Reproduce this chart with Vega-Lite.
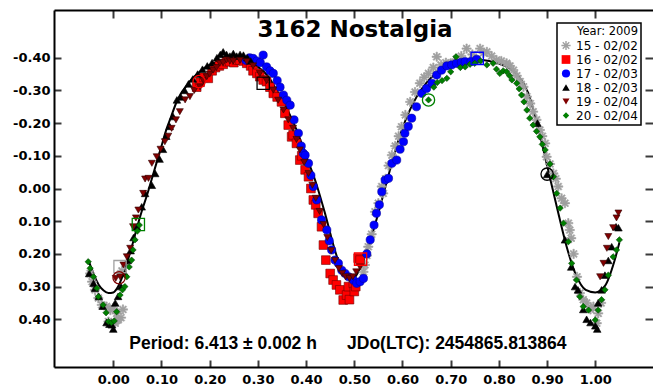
{
  "$schema": "https://vega.github.io/schema/vega-lite/v6.json",
  "width": 599,
  "height": 357,
  "autosize": {"type": "none"},
  "padding": {"left": 54, "top": 10, "right": 0, "bottom": 19},
  "background": "white",
  "config": {
    "view": {"stroke": null},
    "axis": {
      "grid": false,
      "title": null,
      "domainColor": "#000000",
      "domainWidth": 2,
      "labelFont": "DejaVu Sans",
      "labelFontWeight": "bold",
      "labelFontSize": 13,
      "labelColor": "#000000"
    },
    "legend": {
      "fillColor": "#ffffff",
      "strokeColor": "#000000",
      "strokeWidth": 1.5,
      "padding": 3,
      "cornerRadius": 0,
      "titleFont": "DejaVu Sans",
      "titleFontWeight": "normal",
      "titleFontSize": 11.5,
      "titleColor": "#000000",
      "titleAnchor": "end",
      "titlePadding": 2,
      "labelFont": "DejaVu Sans",
      "labelFontSize": 12,
      "labelColor": "#000000",
      "labelOffset": 4,
      "symbolSize": 64,
      "symbolStrokeWidth": 0,
      "symbolOpacity": 1,
      "rowPadding": 2
    }
  },
  "datasets": {
    "obs": [
      {"session": "15 - 02/02", "phase": -0.048, "mag": 0.26},
      {"session": "15 - 02/02", "phase": -0.044, "mag": 0.285},
      {"session": "15 - 02/02", "phase": -0.038, "mag": 0.31},
      {"session": "15 - 02/02", "phase": -0.031, "mag": 0.335},
      {"session": "15 - 02/02", "phase": -0.024, "mag": 0.356},
      {"session": "15 - 02/02", "phase": -0.014, "mag": 0.361},
      {"session": "15 - 02/02", "phase": -0.006, "mag": 0.372},
      {"session": "15 - 02/02", "phase": 0.0, "mag": 0.366},
      {"session": "15 - 02/02", "phase": 0.007, "mag": 0.382},
      {"session": "15 - 02/02", "phase": 0.01, "mag": 0.402},
      {"session": "15 - 02/02", "phase": 0.004, "mag": 0.412},
      {"session": "15 - 02/02", "phase": -0.01, "mag": 0.407},
      {"session": "15 - 02/02", "phase": 0.016, "mag": 0.395},
      {"session": "15 - 02/02", "phase": 0.02, "mag": 0.37},
      {"session": "15 - 02/02", "phase": 0.018, "mag": 0.252},
      {"session": "15 - 02/02", "phase": 0.519, "mag": 0.255},
      {"session": "15 - 02/02", "phase": 0.522, "mag": 0.234},
      {"session": "15 - 02/02", "phase": 0.526, "mag": 0.205},
      {"session": "15 - 02/02", "phase": 0.529, "mag": 0.178},
      {"session": "15 - 02/02", "phase": 0.536, "mag": 0.14},
      {"session": "15 - 02/02", "phase": 0.543, "mag": 0.071},
      {"session": "15 - 02/02", "phase": 0.55, "mag": 0.045},
      {"session": "15 - 02/02", "phase": 0.557, "mag": -0.006},
      {"session": "15 - 02/02", "phase": 0.56, "mag": 0.015},
      {"session": "15 - 02/02", "phase": 0.565, "mag": -0.03},
      {"session": "15 - 02/02", "phase": 0.571, "mag": -0.07},
      {"session": "15 - 02/02", "phase": 0.578, "mag": -0.102},
      {"session": "15 - 02/02", "phase": 0.585, "mag": -0.13},
      {"session": "15 - 02/02", "phase": 0.592, "mag": -0.16},
      {"session": "15 - 02/02", "phase": 0.598, "mag": -0.189},
      {"session": "15 - 02/02", "phase": 0.606, "mag": -0.225},
      {"session": "15 - 02/02", "phase": 0.616, "mag": -0.265},
      {"session": "15 - 02/02", "phase": 0.626, "mag": -0.295},
      {"session": "15 - 02/02", "phase": 0.636, "mag": -0.322},
      {"session": "15 - 02/02", "phase": 0.645, "mag": -0.34},
      {"session": "15 - 02/02", "phase": 0.654, "mag": -0.352},
      {"session": "15 - 02/02", "phase": 0.664, "mag": -0.37},
      {"session": "15 - 02/02", "phase": 0.671, "mag": -0.403},
      {"session": "15 - 02/02", "phase": 0.68, "mag": -0.378},
      {"session": "15 - 02/02", "phase": 0.69, "mag": -0.385},
      {"session": "15 - 02/02", "phase": 0.7, "mag": -0.383},
      {"session": "15 - 02/02", "phase": 0.712, "mag": -0.395},
      {"session": "15 - 02/02", "phase": 0.722, "mag": -0.405},
      {"session": "15 - 02/02", "phase": 0.733, "mag": -0.428},
      {"session": "15 - 02/02", "phase": 0.745, "mag": -0.41},
      {"session": "15 - 02/02", "phase": 0.761, "mag": -0.428},
      {"session": "15 - 02/02", "phase": 0.768, "mag": -0.415},
      {"session": "15 - 02/02", "phase": 0.775, "mag": -0.418},
      {"session": "15 - 02/02", "phase": 0.785, "mag": -0.405},
      {"session": "15 - 02/02", "phase": 0.795, "mag": -0.393},
      {"session": "15 - 02/02", "phase": 0.805, "mag": -0.39},
      {"session": "15 - 02/02", "phase": 0.816, "mag": -0.383},
      {"session": "15 - 02/02", "phase": 0.823, "mag": -0.375},
      {"session": "15 - 02/02", "phase": 0.83, "mag": -0.362},
      {"session": "15 - 02/02", "phase": 0.837, "mag": -0.345},
      {"session": "15 - 02/02", "phase": 0.844, "mag": -0.327},
      {"session": "15 - 02/02", "phase": 0.851, "mag": -0.311},
      {"session": "15 - 02/02", "phase": 0.858, "mag": -0.281},
      {"session": "15 - 02/02", "phase": 0.865, "mag": -0.26},
      {"session": "15 - 02/02", "phase": 0.871, "mag": -0.235},
      {"session": "15 - 02/02", "phase": 0.878, "mag": -0.21},
      {"session": "15 - 02/02", "phase": 0.885, "mag": -0.179},
      {"session": "15 - 02/02", "phase": 0.89, "mag": -0.16},
      {"session": "15 - 02/02", "phase": 0.896, "mag": -0.138},
      {"session": "15 - 02/02", "phase": 0.899, "mag": -0.097},
      {"session": "15 - 02/02", "phase": 0.906, "mag": -0.075},
      {"session": "15 - 02/02", "phase": 0.913, "mag": -0.046},
      {"session": "15 - 02/02", "phase": 0.918, "mag": -0.03},
      {"session": "15 - 02/02", "phase": 0.923, "mag": -0.006},
      {"session": "15 - 02/02", "phase": 0.93, "mag": 0.03},
      {"session": "15 - 02/02", "phase": 0.937, "mag": 0.045},
      {"session": "15 - 02/02", "phase": 0.944, "mag": 0.106},
      {"session": "15 - 02/02", "phase": 0.947, "mag": 0.127},
      {"session": "15 - 02/02", "phase": 0.95, "mag": 0.152},
      {"session": "15 - 02/02", "phase": 0.955, "mag": 0.2},
      {"session": "15 - 02/02", "phase": 0.962, "mag": 0.27},
      {"session": "15 - 02/02", "phase": 0.968, "mag": 0.32},
      {"session": "15 - 02/02", "phase": 0.975, "mag": 0.34},
      {"session": "15 - 02/02", "phase": 0.982, "mag": 0.35},
      {"session": "15 - 02/02", "phase": 0.99, "mag": 0.37},
      {"session": "15 - 02/02", "phase": 0.996, "mag": 0.361},
      {"session": "15 - 02/02", "phase": 1.003, "mag": 0.412},
      {"session": "15 - 02/02", "phase": 1.006, "mag": 0.382},
      {"session": "15 - 02/02", "phase": 1.012, "mag": 0.35},

      {"session": "16 - 02/02", "phase": 0.173, "mag": -0.31},
      {"session": "16 - 02/02", "phase": 0.18, "mag": -0.325},
      {"session": "16 - 02/02", "phase": 0.188, "mag": -0.34},
      {"session": "16 - 02/02", "phase": 0.197, "mag": -0.337},
      {"session": "16 - 02/02", "phase": 0.205, "mag": -0.36},
      {"session": "16 - 02/02", "phase": 0.212, "mag": -0.37},
      {"session": "16 - 02/02", "phase": 0.22, "mag": -0.375},
      {"session": "16 - 02/02", "phase": 0.228, "mag": -0.38},
      {"session": "16 - 02/02", "phase": 0.235, "mag": -0.388},
      {"session": "16 - 02/02", "phase": 0.242, "mag": -0.388},
      {"session": "16 - 02/02", "phase": 0.25, "mag": -0.385},
      {"session": "16 - 02/02", "phase": 0.256, "mag": -0.393},
      {"session": "16 - 02/02", "phase": 0.263, "mag": -0.393},
      {"session": "16 - 02/02", "phase": 0.27, "mag": -0.39},
      {"session": "16 - 02/02", "phase": 0.277, "mag": -0.383},
      {"session": "16 - 02/02", "phase": 0.285, "mag": -0.375},
      {"session": "16 - 02/02", "phase": 0.29, "mag": -0.36},
      {"session": "16 - 02/02", "phase": 0.298, "mag": -0.352},
      {"session": "16 - 02/02", "phase": 0.304, "mag": -0.342},
      {"session": "16 - 02/02", "phase": 0.311, "mag": -0.332},
      {"session": "16 - 02/02", "phase": 0.318, "mag": -0.327},
      {"session": "16 - 02/02", "phase": 0.325, "mag": -0.31},
      {"session": "16 - 02/02", "phase": 0.332, "mag": -0.291},
      {"session": "16 - 02/02", "phase": 0.34, "mag": -0.28},
      {"session": "16 - 02/02", "phase": 0.349, "mag": -0.265},
      {"session": "16 - 02/02", "phase": 0.356, "mag": -0.23},
      {"session": "16 - 02/02", "phase": 0.363, "mag": -0.194},
      {"session": "16 - 02/02", "phase": 0.37, "mag": -0.158},
      {"session": "16 - 02/02", "phase": 0.373, "mag": -0.164},
      {"session": "16 - 02/02", "phase": 0.38, "mag": -0.138},
      {"session": "16 - 02/02", "phase": 0.387, "mag": -0.087},
      {"session": "16 - 02/02", "phase": 0.391, "mag": -0.1},
      {"session": "16 - 02/02", "phase": 0.398, "mag": -0.057},
      {"session": "16 - 02/02", "phase": 0.405, "mag": -0.036},
      {"session": "16 - 02/02", "phase": 0.41, "mag": 0.0},
      {"session": "16 - 02/02", "phase": 0.415, "mag": 0.035},
      {"session": "16 - 02/02", "phase": 0.42, "mag": 0.05},
      {"session": "16 - 02/02", "phase": 0.425, "mag": 0.076},
      {"session": "16 - 02/02", "phase": 0.432, "mag": 0.117},
      {"session": "16 - 02/02", "phase": 0.436, "mag": 0.173},
      {"session": "16 - 02/02", "phase": 0.441, "mag": 0.219},
      {"session": "16 - 02/02", "phase": 0.45, "mag": 0.26},
      {"session": "16 - 02/02", "phase": 0.456, "mag": 0.28},
      {"session": "16 - 02/02", "phase": 0.463, "mag": 0.295},
      {"session": "16 - 02/02", "phase": 0.47, "mag": 0.31},
      {"session": "16 - 02/02", "phase": 0.477, "mag": 0.341},
      {"session": "16 - 02/02", "phase": 0.484, "mag": 0.326},
      {"session": "16 - 02/02", "phase": 0.488, "mag": 0.3},
      {"session": "16 - 02/02", "phase": 0.49, "mag": 0.34},
      {"session": "16 - 02/02", "phase": 0.498, "mag": 0.29},
      {"session": "16 - 02/02", "phase": 0.5, "mag": 0.315},
      {"session": "16 - 02/02", "phase": 0.503, "mag": 0.3},
      {"session": "16 - 02/02", "phase": 0.508, "mag": 0.213},
      {"session": "16 - 02/02", "phase": 0.512, "mag": 0.219},

      {"session": "17 - 02/03", "phase": 0.275, "mag": -0.392},
      {"session": "17 - 02/03", "phase": 0.283, "mag": -0.4},
      {"session": "17 - 02/03", "phase": 0.29, "mag": -0.398},
      {"session": "17 - 02/03", "phase": 0.298, "mag": -0.39},
      {"session": "17 - 02/03", "phase": 0.305, "mag": -0.385},
      {"session": "17 - 02/03", "phase": 0.311, "mag": -0.408},
      {"session": "17 - 02/03", "phase": 0.318, "mag": -0.372},
      {"session": "17 - 02/03", "phase": 0.325, "mag": -0.36},
      {"session": "17 - 02/03", "phase": 0.332, "mag": -0.352},
      {"session": "17 - 02/03", "phase": 0.34, "mag": -0.33},
      {"session": "17 - 02/03", "phase": 0.346, "mag": -0.31},
      {"session": "17 - 02/03", "phase": 0.353, "mag": -0.286},
      {"session": "17 - 02/03", "phase": 0.36, "mag": -0.27},
      {"session": "17 - 02/03", "phase": 0.367, "mag": -0.255},
      {"session": "17 - 02/03", "phase": 0.375, "mag": -0.21},
      {"session": "17 - 02/03", "phase": 0.384, "mag": -0.169},
      {"session": "17 - 02/03", "phase": 0.39, "mag": -0.13},
      {"session": "17 - 02/03", "phase": 0.394, "mag": -0.108},
      {"session": "17 - 02/03", "phase": 0.398, "mag": -0.102},
      {"session": "17 - 02/03", "phase": 0.405, "mag": -0.077},
      {"session": "17 - 02/03", "phase": 0.41, "mag": -0.04},
      {"session": "17 - 02/03", "phase": 0.415, "mag": -0.006},
      {"session": "17 - 02/03", "phase": 0.422, "mag": 0.035},
      {"session": "17 - 02/03", "phase": 0.432, "mag": 0.096},
      {"session": "17 - 02/03", "phase": 0.443, "mag": 0.127},
      {"session": "17 - 02/03", "phase": 0.448, "mag": 0.16},
      {"session": "17 - 02/03", "phase": 0.453, "mag": 0.188},
      {"session": "17 - 02/03", "phase": 0.46, "mag": 0.219},
      {"session": "17 - 02/03", "phase": 0.467, "mag": 0.229},
      {"session": "17 - 02/03", "phase": 0.474, "mag": 0.25},
      {"session": "17 - 02/03", "phase": 0.481, "mag": 0.26},
      {"session": "17 - 02/03", "phase": 0.488, "mag": 0.27},
      {"session": "17 - 02/03", "phase": 0.498, "mag": 0.28},
      {"session": "17 - 02/03", "phase": 0.505, "mag": 0.29},
      {"session": "17 - 02/03", "phase": 0.512, "mag": 0.285},
      {"session": "17 - 02/03", "phase": 0.519, "mag": 0.275},
      {"session": "17 - 02/03", "phase": 0.526, "mag": 0.2},
      {"session": "17 - 02/03", "phase": 0.533, "mag": 0.157},
      {"session": "17 - 02/03", "phase": 0.541, "mag": 0.112},
      {"session": "17 - 02/03", "phase": 0.546, "mag": 0.076},
      {"session": "17 - 02/03", "phase": 0.552, "mag": 0.05},
      {"session": "17 - 02/03", "phase": 0.557, "mag": 0.01},
      {"session": "17 - 02/03", "phase": 0.564, "mag": -0.026},
      {"session": "17 - 02/03", "phase": 0.571, "mag": -0.031},
      {"session": "17 - 02/03", "phase": 0.578, "mag": -0.077},
      {"session": "17 - 02/03", "phase": 0.588, "mag": -0.087},
      {"session": "17 - 02/03", "phase": 0.595, "mag": -0.12},
      {"session": "17 - 02/03", "phase": 0.602, "mag": -0.143},
      {"session": "17 - 02/03", "phase": 0.605, "mag": -0.169},
      {"session": "17 - 02/03", "phase": 0.612, "mag": -0.19},
      {"session": "17 - 02/03", "phase": 0.619, "mag": -0.215},
      {"session": "17 - 02/03", "phase": 0.629, "mag": -0.25},
      {"session": "17 - 02/03", "phase": 0.64, "mag": -0.291},
      {"session": "17 - 02/03", "phase": 0.65, "mag": -0.306},
      {"session": "17 - 02/03", "phase": 0.661, "mag": -0.322},
      {"session": "17 - 02/03", "phase": 0.671, "mag": -0.347},
      {"session": "17 - 02/03", "phase": 0.681, "mag": -0.362},
      {"session": "17 - 02/03", "phase": 0.692, "mag": -0.375},
      {"session": "17 - 02/03", "phase": 0.702, "mag": -0.378},
      {"session": "17 - 02/03", "phase": 0.712, "mag": -0.383},
      {"session": "17 - 02/03", "phase": 0.722, "mag": -0.386},
      {"session": "17 - 02/03", "phase": 0.73, "mag": -0.388},
      {"session": "17 - 02/03", "phase": 0.742, "mag": -0.388},
      {"session": "17 - 02/03", "phase": 0.754, "mag": -0.395},

      {"session": "18 - 02/03", "phase": -0.05, "mag": 0.26},
      {"session": "18 - 02/03", "phase": -0.041, "mag": 0.29},
      {"session": "18 - 02/03", "phase": -0.038, "mag": 0.305},
      {"session": "18 - 02/03", "phase": -0.03, "mag": 0.33},
      {"session": "18 - 02/03", "phase": -0.022, "mag": 0.36},
      {"session": "18 - 02/03", "phase": -0.014, "mag": 0.41},
      {"session": "18 - 02/03", "phase": -0.008, "mag": 0.415},
      {"session": "18 - 02/03", "phase": -0.003, "mag": 0.417},
      {"session": "18 - 02/03", "phase": 0.0, "mag": 0.43},
      {"session": "18 - 02/03", "phase": 0.004, "mag": 0.35},
      {"session": "18 - 02/03", "phase": 0.01, "mag": 0.33},
      {"session": "18 - 02/03", "phase": 0.016, "mag": 0.3},
      {"session": "18 - 02/03", "phase": 0.024, "mag": 0.26},
      {"session": "18 - 02/03", "phase": 0.03, "mag": 0.22},
      {"session": "18 - 02/03", "phase": 0.036, "mag": 0.19},
      {"session": "18 - 02/03", "phase": 0.042, "mag": 0.15},
      {"session": "18 - 02/03", "phase": 0.049, "mag": 0.117},
      {"session": "18 - 02/03", "phase": 0.059, "mag": 0.056},
      {"session": "18 - 02/03", "phase": 0.066, "mag": 0.015},
      {"session": "18 - 02/03", "phase": 0.08, "mag": -0.01},
      {"session": "18 - 02/03", "phase": 0.087, "mag": -0.046},
      {"session": "18 - 02/03", "phase": 0.096, "mag": -0.09},
      {"session": "18 - 02/03", "phase": 0.103, "mag": -0.12},
      {"session": "18 - 02/03", "phase": 0.11, "mag": -0.16},
      {"session": "18 - 02/03", "phase": 0.117, "mag": -0.19},
      {"session": "18 - 02/03", "phase": 0.124, "mag": -0.22},
      {"session": "18 - 02/03", "phase": 0.132, "mag": -0.271},
      {"session": "18 - 02/03", "phase": 0.14, "mag": -0.28},
      {"session": "18 - 02/03", "phase": 0.148, "mag": -0.3},
      {"session": "18 - 02/03", "phase": 0.156, "mag": -0.32},
      {"session": "18 - 02/03", "phase": 0.165, "mag": -0.335},
      {"session": "18 - 02/03", "phase": 0.175, "mag": -0.35},
      {"session": "18 - 02/03", "phase": 0.185, "mag": -0.365},
      {"session": "18 - 02/03", "phase": 0.195, "mag": -0.375},
      {"session": "18 - 02/03", "phase": 0.205, "mag": -0.385},
      {"session": "18 - 02/03", "phase": 0.215, "mag": -0.4},
      {"session": "18 - 02/03", "phase": 0.222, "mag": -0.41},
      {"session": "18 - 02/03", "phase": 0.228, "mag": -0.418},
      {"session": "18 - 02/03", "phase": 0.235, "mag": -0.41},
      {"session": "18 - 02/03", "phase": 0.242, "mag": -0.405},
      {"session": "18 - 02/03", "phase": 0.249, "mag": -0.413},
      {"session": "18 - 02/03", "phase": 0.256, "mag": -0.405},
      {"session": "18 - 02/03", "phase": 0.263, "mag": -0.41},
      {"session": "18 - 02/03", "phase": 0.27, "mag": -0.408},
      {"session": "18 - 02/03", "phase": 0.278, "mag": -0.4},
      {"session": "18 - 02/03", "phase": 0.285, "mag": -0.39},
      {"session": "18 - 02/03", "phase": 0.88, "mag": -0.2},
      {"session": "18 - 02/03", "phase": 0.9, "mag": -0.043},
      {"session": "18 - 02/03", "phase": 0.937, "mag": 0.157},
      {"session": "18 - 02/03", "phase": 0.95, "mag": 0.24},
      {"session": "18 - 02/03", "phase": 0.958, "mag": 0.3},
      {"session": "18 - 02/03", "phase": 0.964, "mag": 0.31},
      {"session": "18 - 02/03", "phase": 0.975, "mag": 0.37},
      {"session": "18 - 02/03", "phase": 0.982, "mag": 0.4},
      {"session": "18 - 02/03", "phase": 0.99, "mag": 0.41},
      {"session": "18 - 02/03", "phase": 1.0, "mag": 0.42},
      {"session": "18 - 02/03", "phase": 1.004, "mag": 0.43},
      {"session": "18 - 02/03", "phase": 1.006, "mag": 0.35},
      {"session": "18 - 02/03", "phase": 1.013, "mag": 0.31},
      {"session": "18 - 02/03", "phase": 1.02, "mag": 0.265},
      {"session": "18 - 02/03", "phase": 1.027, "mag": 0.22},
      {"session": "18 - 02/03", "phase": 1.034, "mag": 0.178},
      {"session": "18 - 02/03", "phase": 1.043, "mag": 0.117},
      {"session": "18 - 02/03", "phase": 1.048, "mag": 0.12},

      {"session": "19 - 02/04", "phase": 0.005, "mag": 0.275},
      {"session": "19 - 02/04", "phase": 0.014, "mag": 0.27},
      {"session": "19 - 02/04", "phase": 0.021, "mag": 0.234},
      {"session": "19 - 02/04", "phase": 0.028, "mag": 0.209},
      {"session": "19 - 02/04", "phase": 0.035, "mag": 0.183},
      {"session": "19 - 02/04", "phase": 0.041, "mag": 0.117},
      {"session": "19 - 02/04", "phase": 0.047, "mag": 0.09},
      {"session": "19 - 02/04", "phase": 0.052, "mag": 0.066},
      {"session": "19 - 02/04", "phase": 0.062, "mag": 0.015},
      {"session": "19 - 02/04", "phase": 0.066, "mag": -0.029},
      {"session": "19 - 02/04", "phase": 0.073, "mag": -0.031},
      {"session": "19 - 02/04", "phase": 0.08, "mag": -0.077},
      {"session": "19 - 02/04", "phase": 0.09, "mag": -0.097},
      {"session": "19 - 02/04", "phase": 0.098, "mag": -0.12},
      {"session": "19 - 02/04", "phase": 0.107, "mag": -0.143},
      {"session": "19 - 02/04", "phase": 0.114, "mag": -0.16},
      {"session": "19 - 02/04", "phase": 0.121, "mag": -0.184},
      {"session": "19 - 02/04", "phase": 0.13, "mag": -0.21},
      {"session": "19 - 02/04", "phase": 0.138, "mag": -0.235},
      {"session": "19 - 02/04", "phase": 0.149, "mag": -0.271},
      {"session": "19 - 02/04", "phase": 0.159, "mag": -0.281},
      {"session": "19 - 02/04", "phase": 0.168, "mag": -0.3},
      {"session": "19 - 02/04", "phase": 0.18, "mag": -0.311},
      {"session": "19 - 02/04", "phase": 0.187, "mag": -0.33},
      {"session": "19 - 02/04", "phase": 0.194, "mag": -0.342},
      {"session": "19 - 02/04", "phase": 0.2, "mag": -0.35},
      {"session": "19 - 02/04", "phase": 0.207, "mag": -0.362},
      {"session": "19 - 02/04", "phase": 0.214, "mag": -0.37},
      {"session": "19 - 02/04", "phase": 0.221, "mag": -0.383},
      {"session": "19 - 02/04", "phase": 0.228, "mag": -0.385},
      {"session": "19 - 02/04", "phase": 0.235, "mag": -0.393},
      {"session": "19 - 02/04", "phase": 0.242, "mag": -0.39},
      {"session": "19 - 02/04", "phase": 0.249, "mag": -0.39},
      {"session": "19 - 02/04", "phase": 0.263, "mag": -0.392},
      {"session": "19 - 02/04", "phase": 0.277, "mag": -0.388},
      {"session": "19 - 02/04", "phase": 0.29, "mag": -0.375},
      {"session": "19 - 02/04", "phase": 0.304, "mag": -0.352},
      {"session": "19 - 02/04", "phase": 0.318, "mag": -0.33},
      {"session": "19 - 02/04", "phase": 0.332, "mag": -0.301},
      {"session": "19 - 02/04", "phase": 0.342, "mag": -0.27},
      {"session": "19 - 02/04", "phase": 0.353, "mag": -0.24},
      {"session": "19 - 02/04", "phase": 0.363, "mag": -0.21},
      {"session": "19 - 02/04", "phase": 0.373, "mag": -0.184},
      {"session": "19 - 02/04", "phase": 0.38, "mag": -0.15},
      {"session": "19 - 02/04", "phase": 0.387, "mag": -0.118},
      {"session": "19 - 02/04", "phase": 0.396, "mag": -0.08},
      {"session": "19 - 02/04", "phase": 0.405, "mag": -0.046},
      {"session": "19 - 02/04", "phase": 0.413, "mag": -0.01},
      {"session": "19 - 02/04", "phase": 0.42, "mag": 0.03},
      {"session": "19 - 02/04", "phase": 0.428, "mag": 0.07},
      {"session": "19 - 02/04", "phase": 0.436, "mag": 0.11},
      {"session": "19 - 02/04", "phase": 0.444, "mag": 0.15},
      {"session": "19 - 02/04", "phase": 0.452, "mag": 0.19},
      {"session": "19 - 02/04", "phase": 0.46, "mag": 0.22},
      {"session": "19 - 02/04", "phase": 0.468, "mag": 0.245},
      {"session": "19 - 02/04", "phase": 0.475, "mag": 0.26},
      {"session": "19 - 02/04", "phase": 0.482, "mag": 0.27},
      {"session": "19 - 02/04", "phase": 0.49, "mag": 0.275},
      {"session": "19 - 02/04", "phase": 0.497, "mag": 0.27},
      {"session": "19 - 02/04", "phase": 0.504, "mag": 0.255},
      {"session": "19 - 02/04", "phase": 0.512, "mag": 0.24},
      {"session": "19 - 02/04", "phase": 1.01, "mag": 0.27},
      {"session": "19 - 02/04", "phase": 1.017, "mag": 0.229},
      {"session": "19 - 02/04", "phase": 1.024, "mag": 0.183},
      {"session": "19 - 02/04", "phase": 1.027, "mag": 0.147},
      {"session": "19 - 02/04", "phase": 1.037, "mag": 0.12},
      {"session": "19 - 02/04", "phase": 1.044, "mag": 0.09},
      {"session": "19 - 02/04", "phase": 1.048, "mag": 0.075},

      {"session": "20 - 02/04", "phase": -0.052, "mag": 0.224},
      {"session": "20 - 02/04", "phase": -0.048, "mag": 0.244},
      {"session": "20 - 02/04", "phase": -0.041, "mag": 0.27},
      {"session": "20 - 02/04", "phase": -0.034, "mag": 0.305},
      {"session": "20 - 02/04", "phase": -0.031, "mag": 0.331},
      {"session": "20 - 02/04", "phase": -0.021, "mag": 0.356},
      {"session": "20 - 02/04", "phase": -0.015, "mag": 0.38},
      {"session": "20 - 02/04", "phase": -0.01, "mag": 0.407},
      {"session": "20 - 02/04", "phase": -0.004, "mag": 0.41},
      {"session": "20 - 02/04", "phase": 0.002, "mag": 0.405},
      {"session": "20 - 02/04", "phase": 0.007, "mag": 0.377},
      {"session": "20 - 02/04", "phase": 0.014, "mag": 0.326},
      {"session": "20 - 02/04", "phase": 0.019, "mag": 0.31},
      {"session": "20 - 02/04", "phase": 0.024, "mag": 0.3},
      {"session": "20 - 02/04", "phase": 0.028, "mag": 0.27},
      {"session": "20 - 02/04", "phase": 0.033, "mag": 0.24},
      {"session": "20 - 02/04", "phase": 0.038, "mag": 0.219},
      {"session": "20 - 02/04", "phase": 0.041, "mag": 0.188},
      {"session": "20 - 02/04", "phase": 0.045, "mag": 0.157},
      {"session": "20 - 02/04", "phase": 0.05, "mag": 0.13},
      {"session": "20 - 02/04", "phase": 0.054, "mag": 0.112},
      {"session": "20 - 02/04", "phase": 0.654, "mag": -0.271},
      {"session": "20 - 02/04", "phase": 0.665, "mag": -0.31},
      {"session": "20 - 02/04", "phase": 0.672, "mag": -0.324},
      {"session": "20 - 02/04", "phase": 0.682, "mag": -0.33},
      {"session": "20 - 02/04", "phase": 0.692, "mag": -0.337},
      {"session": "20 - 02/04", "phase": 0.7, "mag": -0.357},
      {"session": "20 - 02/04", "phase": 0.711, "mag": -0.403},
      {"session": "20 - 02/04", "phase": 0.72, "mag": -0.37},
      {"session": "20 - 02/04", "phase": 0.73, "mag": -0.372},
      {"session": "20 - 02/04", "phase": 0.74, "mag": -0.38},
      {"session": "20 - 02/04", "phase": 0.75, "mag": -0.383},
      {"session": "20 - 02/04", "phase": 0.762, "mag": -0.39},
      {"session": "20 - 02/04", "phase": 0.775, "mag": -0.378},
      {"session": "20 - 02/04", "phase": 0.788, "mag": -0.383},
      {"session": "20 - 02/04", "phase": 0.795, "mag": -0.365},
      {"session": "20 - 02/04", "phase": 0.802, "mag": -0.352},
      {"session": "20 - 02/04", "phase": 0.809, "mag": -0.36},
      {"session": "20 - 02/04", "phase": 0.816, "mag": -0.357},
      {"session": "20 - 02/04", "phase": 0.822, "mag": -0.345},
      {"session": "20 - 02/04", "phase": 0.827, "mag": -0.332},
      {"session": "20 - 02/04", "phase": 0.837, "mag": -0.322},
      {"session": "20 - 02/04", "phase": 0.842, "mag": -0.305},
      {"session": "20 - 02/04", "phase": 0.847, "mag": -0.286},
      {"session": "20 - 02/04", "phase": 0.852, "mag": -0.265},
      {"session": "20 - 02/04", "phase": 0.858, "mag": -0.24},
      {"session": "20 - 02/04", "phase": 0.864, "mag": -0.215},
      {"session": "20 - 02/04", "phase": 0.871, "mag": -0.194},
      {"session": "20 - 02/04", "phase": 0.878, "mag": -0.175},
      {"session": "20 - 02/04", "phase": 0.885, "mag": -0.158},
      {"session": "20 - 02/04", "phase": 0.89, "mag": -0.135},
      {"session": "20 - 02/04", "phase": 0.896, "mag": -0.118},
      {"session": "20 - 02/04", "phase": 0.906, "mag": -0.075},
      {"session": "20 - 02/04", "phase": 0.913, "mag": -0.036},
      {"session": "20 - 02/04", "phase": 0.92, "mag": 0.015},
      {"session": "20 - 02/04", "phase": 0.927, "mag": 0.06},
      {"session": "20 - 02/04", "phase": 0.934, "mag": 0.106},
      {"session": "20 - 02/04", "phase": 0.944, "mag": 0.163},
      {"session": "20 - 02/04", "phase": 0.951, "mag": 0.229},
      {"session": "20 - 02/04", "phase": 0.961, "mag": 0.28},
      {"session": "20 - 02/04", "phase": 0.968, "mag": 0.331},
      {"session": "20 - 02/04", "phase": 0.975, "mag": 0.361},
      {"session": "20 - 02/04", "phase": 0.986, "mag": 0.372},
      {"session": "20 - 02/04", "phase": 1.0, "mag": 0.402},
      {"session": "20 - 02/04", "phase": 1.006, "mag": 0.372},
      {"session": "20 - 02/04", "phase": 1.013, "mag": 0.34},
      {"session": "20 - 02/04", "phase": 1.02, "mag": 0.31},
      {"session": "20 - 02/04", "phase": 1.027, "mag": 0.265},
      {"session": "20 - 02/04", "phase": 1.037, "mag": 0.209},
      {"session": "20 - 02/04", "phase": 1.044, "mag": 0.188},
      {"session": "20 - 02/04", "phase": 1.05, "mag": 0.157}
    ],
    "fit": [
      {"phase": -0.05, "mag": 0.225},
      {"phase": -0.04, "mag": 0.265},
      {"phase": -0.03, "mag": 0.295},
      {"phase": -0.02, "mag": 0.312},
      {"phase": -0.01, "mag": 0.32},
      {"phase": 0.0, "mag": 0.318},
      {"phase": 0.01, "mag": 0.3},
      {"phase": 0.02, "mag": 0.265},
      {"phase": 0.03, "mag": 0.22},
      {"phase": 0.04, "mag": 0.17},
      {"phase": 0.05, "mag": 0.115},
      {"phase": 0.06, "mag": 0.065},
      {"phase": 0.07, "mag": 0.02},
      {"phase": 0.08, "mag": -0.03},
      {"phase": 0.09, "mag": -0.08},
      {"phase": 0.1, "mag": -0.13},
      {"phase": 0.11, "mag": -0.18},
      {"phase": 0.12, "mag": -0.22},
      {"phase": 0.13, "mag": -0.26},
      {"phase": 0.14, "mag": -0.29},
      {"phase": 0.15, "mag": -0.31},
      {"phase": 0.16, "mag": -0.33},
      {"phase": 0.17, "mag": -0.345},
      {"phase": 0.18, "mag": -0.358},
      {"phase": 0.19, "mag": -0.37},
      {"phase": 0.2, "mag": -0.378},
      {"phase": 0.22, "mag": -0.39},
      {"phase": 0.24, "mag": -0.396},
      {"phase": 0.26, "mag": -0.395},
      {"phase": 0.28, "mag": -0.388},
      {"phase": 0.3, "mag": -0.372},
      {"phase": 0.32, "mag": -0.345},
      {"phase": 0.34, "mag": -0.298},
      {"phase": 0.36, "mag": -0.245},
      {"phase": 0.38, "mag": -0.18},
      {"phase": 0.4, "mag": -0.1},
      {"phase": 0.42, "mag": -0.02},
      {"phase": 0.44, "mag": 0.08},
      {"phase": 0.46, "mag": 0.19},
      {"phase": 0.47, "mag": 0.235},
      {"phase": 0.48, "mag": 0.262},
      {"phase": 0.49, "mag": 0.275},
      {"phase": 0.5, "mag": 0.272},
      {"phase": 0.51, "mag": 0.25},
      {"phase": 0.52, "mag": 0.215},
      {"phase": 0.53, "mag": 0.17},
      {"phase": 0.54, "mag": 0.125},
      {"phase": 0.55, "mag": 0.075},
      {"phase": 0.56, "mag": 0.02},
      {"phase": 0.57, "mag": -0.035},
      {"phase": 0.58, "mag": -0.09},
      {"phase": 0.59, "mag": -0.14},
      {"phase": 0.6, "mag": -0.185},
      {"phase": 0.62, "mag": -0.255},
      {"phase": 0.64, "mag": -0.305},
      {"phase": 0.66, "mag": -0.34},
      {"phase": 0.68, "mag": -0.362},
      {"phase": 0.7, "mag": -0.377},
      {"phase": 0.72, "mag": -0.386},
      {"phase": 0.74, "mag": -0.392},
      {"phase": 0.76, "mag": -0.393},
      {"phase": 0.78, "mag": -0.39},
      {"phase": 0.8, "mag": -0.382},
      {"phase": 0.82, "mag": -0.37},
      {"phase": 0.84, "mag": -0.345},
      {"phase": 0.86, "mag": -0.295},
      {"phase": 0.88, "mag": -0.195},
      {"phase": 0.9, "mag": -0.07},
      {"phase": 0.92, "mag": 0.055},
      {"phase": 0.94, "mag": 0.175},
      {"phase": 0.96, "mag": 0.265},
      {"phase": 0.98, "mag": 0.31},
      {"phase": 1.0, "mag": 0.318},
      {"phase": 1.02, "mag": 0.298},
      {"phase": 1.04, "mag": 0.22},
      {"phase": 1.05, "mag": 0.165}
    ],
    "flags": [
      {"session": "15 - 02/02", "kind": "start", "phase": 0.014, "mag": 0.239},
      {"session": "16 - 02/02", "kind": "end", "phase": 0.178, "mag": -0.327},
      {"session": "16 - 02/02", "kind": "start", "phase": 0.513, "mag": 0.216},
      {"session": "17 - 02/03", "kind": "start", "phase": 0.755, "mag": -0.398},
      {"session": "18 - 02/03", "kind": "end", "phase": 0.9, "mag": -0.044},
      {"session": "18 - 02/03", "kind": "start", "phase": 0.311, "mag": -0.322},
      {"session": "19 - 02/04", "kind": "end", "phase": 0.012, "mag": 0.273},
      {"session": "20 - 02/04", "kind": "start", "phase": 0.052, "mag": 0.11},
      {"session": "20 - 02/04", "kind": "end", "phase": 0.654, "mag": -0.271}
    ],
    "notes": [
      {"kind": "title", "label": "3162 Nostalgia", "phase": 0.5015, "mag": -0.462},
      {"kind": "info", "label": "Period: 6.413 ± 0.002 h", "phase": 0.0332, "mag": 0.4917},
      {"kind": "info", "label": "JDo(LTC): 2454865.813864", "phase": 0.4849, "mag": 0.4917}
    ]
  },
  "layer": [
    {
      "data": {"name": "fit"},
      "mark": {"type": "line", "color": "#000000", "strokeWidth": 2, "interpolate": "monotone"},
      "encoding": {
        "x": {
          "field": "phase", "type": "quantitative",
          "scale": {"domain": [-0.123, 1.1197], "nice": false, "zero": false},
          "axis": {
            "orient": "bottom",
            "values": [0, 0.1, 0.2, 0.3, 0.4, 0.5, 0.6, 0.7, 0.8, 0.9, 1],
            "labelExpr": "format(datum.value, '.2f')",
            "tickSize": -7,
            "tickColor": "#3a3a3a",
            "tickWidth": 2,
            "labelPadding": 13
          }
        },
        "y": {
          "field": "mag", "type": "quantitative",
          "scale": {"domain": [-0.546, 0.546], "reverse": true, "nice": false, "zero": false},
          "axis": {
            "orient": "left",
            "values": [-0.4, -0.3, -0.2, -0.1, 0, 0.1, 0.2, 0.3, 0.4],
            "labelExpr": "(datum.value < 0 ? '-' : '') + format(abs(datum.value), '.2f')",
            "tickSize": -7,
            "tickColor": "#3a3a3a",
            "tickWidth": 2,
            "labelPadding": 11
          }
        }
      }
    },
    {
      "data": {"name": "obs"},
      "mark": {"type": "point", "filled": true, "opacity": 1, "strokeWidth": 0.6},
      "encoding": {
        "x": {
          "field": "phase", "type": "quantitative",
          "scale": {"domain": [-0.123, 1.1197], "nice": false, "zero": false},
          "axis": {
            "orient": "top",
            "values": [0, 0.1, 0.2, 0.3, 0.4, 0.5, 0.6, 0.7, 0.8, 0.9, 1],
            "labels": false,
            "tickSize": -8,
            "tickColor": "#3a3a3a",
            "tickWidth": 2
          }
        },
        "y": {
          "field": "mag", "type": "quantitative",
          "scale": {"domain": [-0.546, 0.546], "reverse": true, "nice": false, "zero": false},
          "axis": {
            "orient": "right",
            "values": [-0.4, -0.3, -0.2, -0.1, 0, 0.1, 0.2, 0.3, 0.4],
            "labels": false,
            "domain": false,
            "tickSize": -8,
            "tickColor": "#3a3a3a",
            "tickWidth": 2
          }
        },
        "color": {
          "field": "session", "type": "nominal", "title": "Year: 2009",
          "scale": {
            "domain": ["15 - 02/02", "16 - 02/02", "17 - 02/03", "18 - 02/03", "19 - 02/04", "20 - 02/04"],
            "range": ["#a0a0a0", "#ff0000", "#0000ff", "#000000", "#800000", "#008000"]
          },
          "legend": {"orient": "none", "legendX": 503, "legendY": 13}
        },
        "shape": {
          "field": "session", "type": "nominal", "title": "Year: 2009",
          "scale": {
            "domain": ["15 - 02/02", "16 - 02/02", "17 - 02/03", "18 - 02/03", "19 - 02/04", "20 - 02/04"],
            "range": [
              "M-1,-0.15L1,-0.15L1,0.15L-1,0.15ZM-0.15,-1L0.15,-1L0.15,1L-0.15,1ZM-0.601,-0.813L0.813,0.601L0.601,0.813L-0.813,-0.601ZM-0.813,0.601L0.601,-0.813L0.813,-0.601L-0.601,0.813Z",
              "square", "circle", "triangle-up", "triangle-down", "diamond"
            ]
          },
          "legend": {"orient": "none", "legendX": 503, "legendY": 13}
        },
        "stroke": {
          "field": "session", "type": "nominal",
          "scale": {
            "domain": ["15 - 02/02", "16 - 02/02", "17 - 02/03", "18 - 02/03", "19 - 02/04", "20 - 02/04"],
            "range": ["#a0a0a0", "#700000", "#0000a0", "#000000", "#300000", "#004000"]
          },
          "legend": null
        },
        "size": {
          "field": "session", "type": "nominal",
          "scale": {
            "domain": ["15 - 02/02", "16 - 02/02", "17 - 02/03", "18 - 02/03", "19 - 02/04", "20 - 02/04"],
            "range": [85, 40, 26, 42, 42, 40]
          },
          "legend": null
        }
      }
    },
    {
      "data": {"name": "flags"},
      "mark": {"type": "point", "filled": false, "opacity": 1, "strokeWidth": 1.3, "size": 150},
      "encoding": {
        "x": {"field": "phase", "type": "quantitative", "scale": {"domain": [-0.123, 1.1197], "nice": false, "zero": false}, "axis": null},
        "y": {"field": "mag", "type": "quantitative", "scale": {"domain": [-0.546, 0.546], "reverse": true, "nice": false, "zero": false}, "axis": null},
        "color": {
          "field": "session", "type": "nominal",
          "scale": {
            "domain": ["15 - 02/02", "16 - 02/02", "17 - 02/03", "18 - 02/03", "19 - 02/04", "20 - 02/04"],
            "range": ["#a0a0a0", "#ff0000", "#0000ff", "#000000", "#800000", "#008000"]
          },
          "legend": null
        },
        "shape": {
          "field": "kind", "type": "nominal",
          "scale": {"domain": ["start", "end"], "range": ["square", "circle"]},
          "legend": null
        }
      }
    },
    {
      "data": {"name": "notes"},
      "transform": [{"filter": "datum.kind === 'title'"}],
      "mark": {"type": "text", "font": "DejaVu Sans", "fontWeight": "bold", "fontSize": 23, "align": "center", "baseline": "alphabetic", "color": "#000000"},
      "encoding": {
        "x": {"field": "phase", "type": "quantitative", "scale": {"domain": [-0.123, 1.1197], "nice": false, "zero": false}, "axis": null},
        "y": {"field": "mag", "type": "quantitative", "scale": {"domain": [-0.546, 0.546], "reverse": true, "nice": false, "zero": false}, "axis": null},
        "text": {"field": "label"}
      }
    },
    {
      "data": {"name": "notes"},
      "transform": [{"filter": "datum.kind === 'info'"}],
      "mark": {"type": "text", "font": "Liberation Sans", "fontWeight": "bold", "fontSize": 17.5, "align": "left", "baseline": "alphabetic", "color": "#000000"},
      "encoding": {
        "x": {"field": "phase", "type": "quantitative", "scale": {"domain": [-0.123, 1.1197], "nice": false, "zero": false}, "axis": null},
        "y": {"field": "mag", "type": "quantitative", "scale": {"domain": [-0.546, 0.546], "reverse": true, "nice": false, "zero": false}, "axis": null},
        "text": {"field": "label"}
      }
    }
  ],
  "resolve": {
    "axis": {"x": "independent", "y": "independent"},
    "scale": {"shape": "independent", "color": "independent", "stroke": "independent", "size": "independent"}
  }
}
